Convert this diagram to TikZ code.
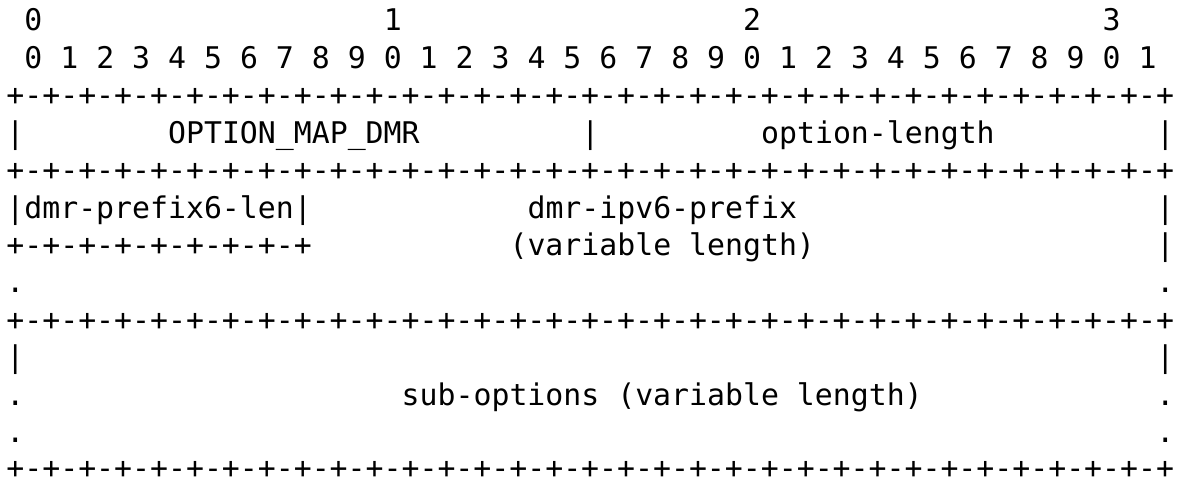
\documentclass[tikz,border=0pt]{standalone}
\usepackage{fontspec}
\newfontfamily\artfont{DejaVu Sans Mono}
\newcommand\pluspairs{+-+-+-+-+-+-+-+-}
\newcommand\fullrow{\pluspairs\pluspairs\pluspairs\pluspairs+}
\tikzset{
  art/.style={font=\artfont\fontsize{14.92}{18}\selectfont, inner sep=0pt, anchor=base west},
}
\begin{document}
\begin{tikzpicture}[x=0.5pt,y=-0.5pt]
\useasboundingbox (0,0) rectangle (1183,481);

% Bit numbers
\node[art] (ten0) at (23.97,31) {0};
\node[art] (ten1) at (383.37,31) {1};
\node[art] (ten2) at (742.77,31) {2};
\node[art] (ten3) at (1102.17,31) {3};
\foreach \i in {0,...,31}{
  \pgfmathtruncatemacro\dg{mod(\i,10)}
  \node[art] (bit\i) at ({6+17.97*(2*\i+1)},68.4) {\dg};
}

% Header row
\node[art] (rowa) at (6,105.8) {\fullrow};
\node[art] (bara) at (6,143.2) {|};
\node[art] (optcode) at (167.73,143.2) {OPTION\_MAP\_DMR};
\node[art] (barb) at (581.04,143.2) {|};
\node[art] (optlen) at (760.74,143.2) {option-length};
\node[art] (barc) at (1156.08,143.2) {|};
\node[art] (rowb) at (6,180.6) {\fullrow};

% Prefix part
\node[art] (plen) at (6,218) {|dmr-prefix6-len|};
\node[art] (pfx) at (527.13,218) {dmr-ipv6-prefix};
\node[art] (bard) at (1156.08,218) {|};
\node[art] (rowc) at (6,255.4) {\pluspairs+};
\node[art] (pvar) at (509.16,255.4) {(variable length)};
\node[art] (bare) at (1156.08,255.4) {|};
\node[art] (dota) at (6,292.8) {.};
\node[art] (dotb) at (1156.08,292.8) {.};
\node[art] (rowd) at (6,330.2) {\fullrow};

% Sub-options part
\node[art] (barf) at (6,367.6) {|};
\node[art] (barg) at (1156.08,367.6) {|};
\node[art] (dotc) at (6,405) {.};
\node[art] (subopt) at (401.34,405) {sub-options (variable length)};
\node[art] (dotd) at (1156.08,405) {.};
\node[art] (dote) at (6,442.4) {.};
\node[art] (dotf) at (1156.08,442.4) {.};
\node[art] (rowe) at (6,478.5) {\fullrow};

\end{tikzpicture}
\end{document}
